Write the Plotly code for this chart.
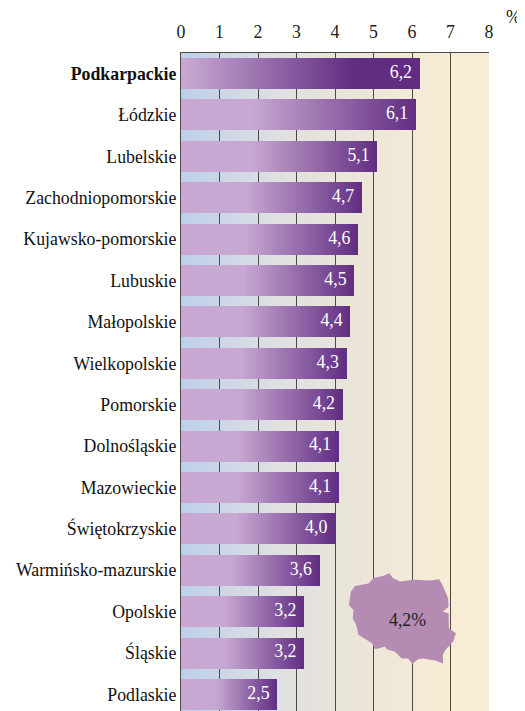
import plotly.graph_objects as go

regions = ["<b>Podkarpackie</b>", "Łódzkie", "Lubelskie", "Zachodniopomorskie", "Kujawsko-pomorskie",
           "Lubuskie", "Małopolskie", "Wielkopolskie", "Pomorskie", "Dolnośląskie", "Mazowieckie",
           "Świętokrzyskie", "Warmińsko-mazurskie", "Opolskie", "Śląskie", "Podlaskie"]
values = [6.2, 6.1, 5.1, 4.7, 4.6, 4.5, 4.4, 4.3, 4.2, 4.1, 4.1, 4.0, 3.6, 3.2, 3.2, 2.5]
value_labels = ["6,2", "6,1", "5,1", "4,7", "4,6", "4,5", "4,4", "4,3", "4,2", "4,1", "4,1", "4,0", "3,6", "3,2", "3,2", "2,5"]
national_label = "4,2%"
x_ticks = [0, 1, 2, 3, 4, 5, 6, 7, 8]

# Poland outline sketch, in x-value / row units
poland_x = [4.36, 4.41, 4.52, 4.87, 5.00, 5.26, 5.41, 5.50, 5.69, 6.03, 6.47, 6.71, 6.81,
            6.94, 6.95, 6.80, 6.95, 6.96, 7.14, 7.07, 6.86, 6.80, 6.81, 6.60, 6.29, 6.16,
            6.01, 5.90, 5.73, 5.56, 5.34, 5.30, 5.13, 5.04, 4.95, 4.74, 4.61, 4.55, 4.46, 4.48]
poland_y = [12.84, 12.52, 12.38, 12.32, 12.19, 12.13, 12.07, 12.19, 12.27, 12.23, 12.25, 12.22,
            12.40, 12.68, 12.88, 13.00, 13.04, 13.40, 13.52, 13.72, 13.93, 14.05, 14.25, 14.18,
            14.13, 14.15, 14.26, 14.13, 14.13, 13.97, 13.91, 13.84, 13.89, 13.90, 13.76, 13.64,
            13.56, 13.32, 13.16, 12.96]

PINK = (200, 168, 210)
DARK = (97, 45, 130)
SEGMENTS = 90
FONT_SIZE = 17.8


def bar_stops(row):
    if row == 0:
        return 0.02, 0.72
    if row == 1:
        return 0.30, 1.0
    return 0.36, 1.0


def mix(c1, c2, t):
    t = max(0.0, min(1.0, t))
    return "rgb(%d,%d,%d)" % tuple(round(a + (b - a) * t) for a, b in zip(c1, c2))


def background_colour(x):
    stops = [(0, (189, 208, 234)), (2.5, (223, 224, 226)), (4, (232, 228, 218)), (7, (248, 236, 212)), (8, (248, 236, 212))]
    for (x0, c0), (x1, c1) in zip(stops, stops[1:]):
        if x <= x1:
            return mix(c0, c1, (x - x0) / (x1 - x0))
    return mix(stops[-1][1], stops[-1][1], 0)


rows = list(range(len(regions)))
fig = go.Figure()

# Gradient bars: overlaid, longest first, so that no seams show between colour steps
for k in range(SEGMENTS, 0, -1):
    colours = []
    for r in rows:
        a, b = bar_stops(r)
        colours.append(mix(PINK, DARK, ((k - 0.5) / SEGMENTS - a) / (b - a)))
    fig.add_trace(go.Bar(y=rows, x=[v * k / SEGMENTS for v in values], orientation="h", width=0.75,
                         marker=dict(color=colours, line=dict(width=0)), hoverinfo="skip", showlegend=False))

fig.add_trace(go.Scatter(x=poland_x, y=poland_y, mode="lines", fill="toself", fillcolor="#b48bb3",
                         line=dict(width=0, color="#b48bb3"), hoverinfo="skip", showlegend=False))
fig.add_trace(go.Scatter(x=[v - 0.2 for v in values], y=rows, mode="text", text=value_labels,
                         textposition="middle left", textfont=dict(color="white", size=FONT_SIZE),
                         hoverinfo="skip", showlegend=False))

STEPS = 120
bg = [dict(type="rect", layer="below", xref="x", yref="paper",
           x0=8 * i / STEPS, x1=8, y0=0, y1=1,
           fillcolor=background_colour(8 * (i + 0.5) / STEPS), line=dict(width=0))
      for i in range(STEPS)]

fig.update_layout(
    width=517, height=703, autosize=False,
    margin=dict(l=173, r=36, t=45, b=0),
    barmode="overlay", bargap=0,
    paper_bgcolor="white", plot_bgcolor="white",
    font=dict(family="Liberation Serif", size=FONT_SIZE, color="#222222"),
    shapes=bg,
    showlegend=False,
    annotations=[
        dict(text=national_label, x=5.87, y=13.2, xref="x", yref="y", showarrow=False,
             font=dict(size=FONT_SIZE, color="#222222")),
        dict(text="%", x=(513 - 181) / 308, y=1 + (53 - 17) / 658, xref="paper", yref="paper",
             xanchor="center", yanchor="middle", showarrow=False),
    ],
    xaxis=dict(range=[0, 8], side="top", tickvals=x_ticks, ticktext=[str(t) for t in x_ticks],
               ticks="outside", ticklen=7, tickcolor="rgba(0,0,0,0)",
               showgrid=True, gridcolor="#4a4a44", gridwidth=1, zeroline=False, layer="below traces",
               showline=True, linecolor="#4a4a44", linewidth=1, mirror=True),
    yaxis=dict(range=[15.4, -0.495], tickvals=rows, ticktext=regions,
               ticks="", tickfont=dict(color="#111111"), layer="below traces",
               showgrid=False, zeroline=False, showline=True, linecolor="#4a4a44", linewidth=1),
)

fig.write_html("out.html")
